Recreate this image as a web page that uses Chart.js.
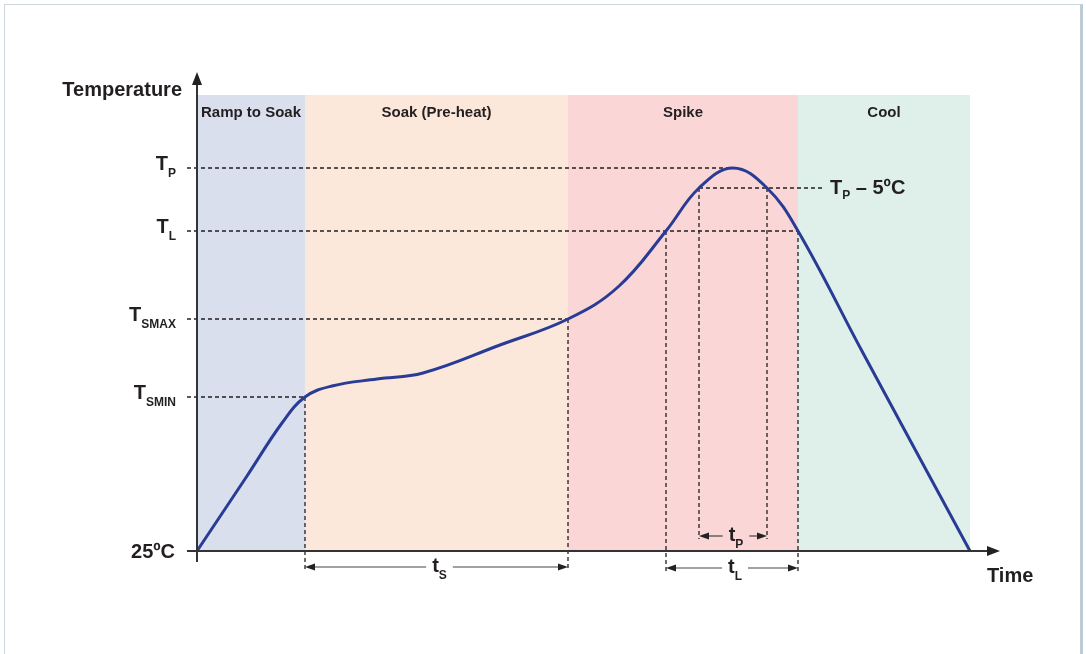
<!DOCTYPE html>
<html>
<head>
<meta charset="utf-8">
<script src="https://cdn.jsdelivr.net/npm/chart.js@4"></script>
<style>
  html, body { margin: 0; padding: 0; background: #fff; overflow: hidden; }
  #frame { position: absolute; left: 4px; top: 4px; width: 1075px; height: 700px;
           border: 1px solid #cbd6dd; border-right: 3px solid #bccbd4; border-bottom: none; }
  #chart { position: absolute; left: 0; top: 0; }
</style>
</head>
<body>
<div id="frame"></div>
<canvas id="chart" width="1086" height="654"></canvas>
<script>
// reflow profile phases (time units are schematic)
const phaseNames = ['Ramp to Soak', 'Soak (Pre-heat)', 'Spike', 'Cool'];
const phaseStart = [0, 108, 371, 601];
const phaseEnd = [108, 371, 601, 773];
const phaseTop = 481;
const phaseColors = ['#d9dfed', '#fce8da', '#fbd6d6', '#dff0ea'];

// the temperature curve
const profileTime = [0, 50, 85, 108, 135, 180, 226, 303, 371, 421, 469, 502, 536, 570, 601, 666, 773];
const profileTemp = [25, 100, 153, 179, 190, 197, 203, 231, 257, 289, 345, 388, 408, 388, 345, 223, 25];

// y axis levels
const baseTemp = 25;
const baseLabel = '25ºC';
const levelMain = ['T', 'T', 'T', 'T'];
const levelSub = ['SMIN', 'SMAX', 'L', 'P'];
const levelTemps = [179, 257, 345, 408];
const levelMeetsCurveAt = [108, 371, 601, 536];

// T_P - 5ºC band
const tp5Temp = 388;
const tp5Times = [502, 570];
const tp5Sub = 'P';
const tp5Rest = ' – 5ºC';

// time spans under the curve
const spanMain = ['t', 't', 't'];
const spanSub = ['S', 'L', 'P'];
const spanFrom = [108, 469, 502];
const spanTo = [371, 601, 570];
const spanFromTemp = [179, 345, 388];
const spanToTemp = [257, 345, 388];

const FONT = '"Liberation Sans", Arial, Helvetica, sans-serif';
const INK = '#231f20';

function subLabel(ctx, main, sub, x, y, align, mainSize, subSize, subDrop) {
  ctx.font = 'bold ' + mainSize + 'px ' + FONT;
  const wm = ctx.measureText(main).width;
  ctx.font = 'bold ' + subSize + 'px ' + FONT;
  const ws = ctx.measureText(sub).width;
  let left = x;
  if (align === 'right') left = x - wm - ws;
  if (align === 'center') left = x - (wm + ws) / 2;
  ctx.textAlign = 'left';
  ctx.textBaseline = 'alphabetic';
  ctx.font = 'bold ' + mainSize + 'px ' + FONT;
  ctx.fillText(main, left, y);
  ctx.font = 'bold ' + subSize + 'px ' + FONT;
  ctx.fillText(sub, left + wm, y + subDrop);
  return left + wm + ws;
}

function line(ctx, x1, y1, x2, y2) {
  ctx.beginPath();
  ctx.moveTo(x1, y1);
  ctx.lineTo(x2, y2);
  ctx.stroke();
}

function arrowHead(ctx, x, y, dir, len, half) {
  // dir: 'left' | 'right' | 'up'
  ctx.beginPath();
  if (dir === 'left') { ctx.moveTo(x, y); ctx.lineTo(x + len, y - half); ctx.lineTo(x + len, y + half); }
  if (dir === 'right') { ctx.moveTo(x, y); ctx.lineTo(x - len, y - half); ctx.lineTo(x - len, y + half); }
  if (dir === 'up') { ctx.moveTo(x, y); ctx.lineTo(x - half, y + len); ctx.lineTo(x + half, y + len); }
  ctx.closePath();
  ctx.fill();
}

const spanRowOffset = [16, 17, -15];

const diagram = {
  id: 'diagram',
  beforeDatasetDraw(chart, args) {
    if (args.index !== 0) return;
    const { ctx, scales: { x, y } } = chart;
    const X = v => x.getPixelForValue(v), Y = v => y.getPixelForValue(v);
    const axisY = Y(baseTemp);
    ctx.save();
    ctx.setLineDash([4, 3]);
    ctx.lineWidth = 1.3;
    ctx.strokeStyle = INK;
    levelTemps.forEach((t, i) => line(ctx, X(0) - 10, Y(t), X(levelMeetsCurveAt[i]), Y(t)));
    line(ctx, X(tp5Times[0]), Y(tp5Temp), X(tp5Times[1]) + 58, Y(tp5Temp));
    spanFrom.forEach((t, i) => {
      const bottom = axisY + spanRowOffset[i] + 3;
      line(ctx, X(t), Y(spanFromTemp[i]), X(t), bottom);
      line(ctx, X(spanTo[i]), Y(spanToTemp[i]), X(spanTo[i]), bottom);
    });
    ctx.restore();
  },
  afterDatasetsDraw(chart) {
    const { ctx, scales: { x, y } } = chart;
    const X = v => x.getPixelForValue(v), Y = v => y.getPixelForValue(v);
    const axisX = X(0), axisY = Y(baseTemp);
    ctx.save();

    // phase titles
    ctx.fillStyle = INK;
    ctx.font = 'bold 15px ' + FONT;
    ctx.textAlign = 'center';
    ctx.textBaseline = 'alphabetic';
    phaseNames.forEach((n, i) => ctx.fillText(n, (X(phaseStart[i]) + X(phaseEnd[i])) / 2, Y(phaseTop) + 22));

    // axes
    ctx.strokeStyle = '#333';
    ctx.fillStyle = '#222';
    ctx.lineWidth = 2;
    line(ctx, axisX, chart.chartArea.top + 10, axisX, axisY + 11);
    line(ctx, axisX - 10, axisY, chart.chartArea.right - 10, axisY);
    arrowHead(ctx, axisX, chart.chartArea.top, 'up', 13, 5);
    arrowHead(ctx, chart.chartArea.right, axisY, 'right', 13, 5);

    // axis titles
    ctx.fillStyle = INK;
    ctx.font = 'bold 20px ' + FONT;
    ctx.textAlign = 'right';
    ctx.fillText('Temperature', axisX - 15, chart.chartArea.top + 24);
    ctx.textAlign = 'left';
    ctx.fillText('Time', chart.chartArea.right - 13, axisY + 31);

    // y levels
    ctx.textAlign = 'right';
    ctx.fillText(baseLabel, axisX - 22, axisY + 7);
    levelTemps.forEach((t, i) => subLabel(ctx, levelMain[i], levelSub[i], axisX - 21, Y(t) + 2, 'right', 20, 12, 7));
    const end = subLabel(ctx, 'T', tp5Sub, X(tp5Times[1]) + 63, Y(tp5Temp) + 6, 'left', 20, 12, 5);
    ctx.font = 'bold 20px ' + FONT;
    ctx.textAlign = 'left';
    ctx.fillText(tp5Rest, end, Y(tp5Temp) + 6);

    // time spans
    ctx.strokeStyle = '#444';
    ctx.fillStyle = '#222';
    ctx.lineWidth = 1.2;
    spanFrom.forEach((t, i) => {
      const x1 = X(t), x2 = X(spanTo[i]), ry = axisY + spanRowOffset[i];
      const mid = (x1 + x2) / 2 + 3;
      ctx.font = 'bold 20px ' + FONT;
      const w = ctx.measureText(spanMain[i]).width;
      ctx.font = 'bold 12px ' + FONT;
      const half = (w + ctx.measureText(spanSub[i]).width) / 2 + 6;
      line(ctx, x1 + 6, ry, mid - half, ry);
      line(ctx, mid + half, ry, x2 - 6, ry);
      arrowHead(ctx, x1, ry, 'left', 10, 3.5);
      arrowHead(ctx, x2, ry, 'right', 10, 3.5);
      ctx.fillStyle = INK;
      subLabel(ctx, spanMain[i], spanSub[i], mid, ry + 5, 'center', 20, 12, 7);
      ctx.fillStyle = '#222';
    });
    ctx.restore();
  }
};

const curve = {
  data: profileTime.map((t, i) => ({ x: t, y: profileTemp[i] })),
  borderColor: '#283c96',
  borderWidth: 3,
  pointRadius: 0,
  tension: 0.4,
  fill: false,
  order: 0,
  clip: false
};

const bands = phaseNames.map((n, i) => ({
  data: [{ x: phaseStart[i], y: phaseTop }, { x: phaseEnd[i], y: phaseTop }],
  backgroundColor: phaseColors[i],
  borderWidth: 0,
  borderColor: 'rgba(0,0,0,0)',
  pointRadius: 0,
  fill: { value: baseTemp },
  order: 1
}));

new Chart(document.getElementById('chart').getContext('2d'), {
  type: 'line',
  data: { datasets: [curve, ...bands] },
  options: {
    responsive: false,
    animation: false,
    layout: { padding: { left: 197, right: 86, top: 72, bottom: 103 } },
    scales: {
      x: { type: 'linear', min: 0, max: 803, display: false },
      y: { min: 25, max: 504, display: false }
    },
    plugins: { legend: { display: false }, tooltip: { enabled: false } }
  },
  plugins: [diagram]
});
</script>
</body>
</html>
